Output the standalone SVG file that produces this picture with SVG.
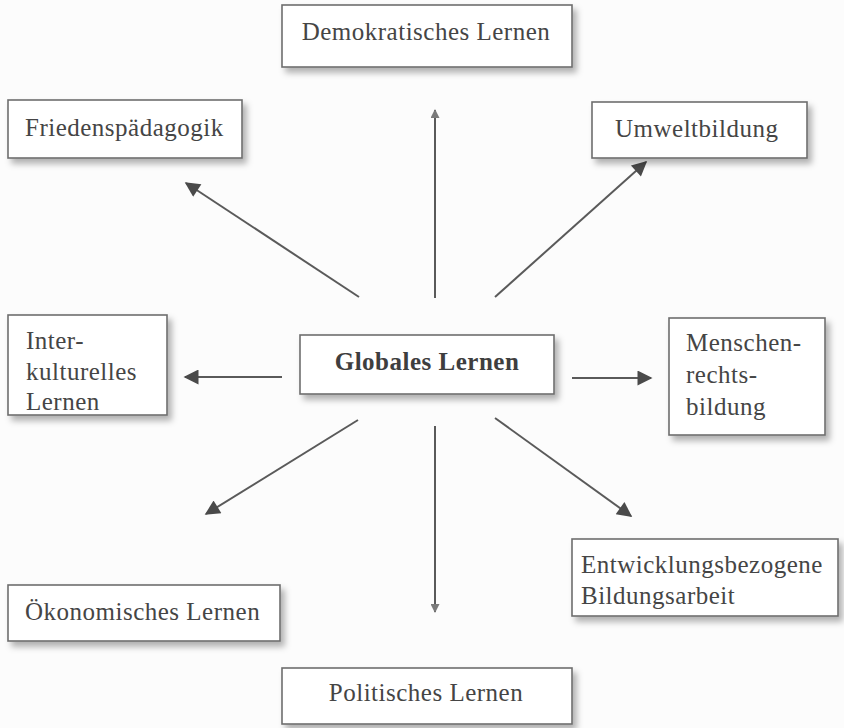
<svg xmlns="http://www.w3.org/2000/svg" width="844" height="728" viewBox="0 0 844 728">
<style>
.box{fill:#fff;stroke:#6e6e6e;stroke-width:1.6;filter:url(#sh)}
.t{font-family:"Liberation Serif","Times New Roman",serif;font-size:25px;fill:#454545;letter-spacing:0.5px}
.b{font-weight:bold;fill:#3e3e3e}
.c{text-anchor:middle}
.ln{stroke:#5a5a5a;stroke-width:2;fill:none}
</style>
<defs>
<filter id="sh" x="-10%" y="-20%" width="130%" height="150%">
<feDropShadow dx="4" dy="5" stdDeviation="3" flood-color="#000" flood-opacity="0.3"/>
</filter>
<marker id="ah" viewBox="0 0 10 10" refX="9" refY="5" markerUnits="userSpaceOnUse" markerWidth="20" markerHeight="15" orient="auto">
<path d="M0,0 L10,5 L0,10 z" fill="#4a4a4a"/>
</marker>
<marker id="as" viewBox="0 0 10 10" refX="9" refY="5" markerUnits="userSpaceOnUse" markerWidth="11" markerHeight="9" orient="auto">
<path d="M0,0 L10,5 L0,10 z" fill="#7a7a7a"/>
</marker>
</defs>
<rect width="844" height="728" fill="#fcfcfc"/>
<g id="connectors">
<line class="ln" x1="435" y1="298" x2="435" y2="110" marker-end="url(#as)"/>
<line class="ln" x1="435" y1="426" x2="435" y2="612" marker-end="url(#as)"/>
<line class="ln" x1="359" y1="297" x2="186" y2="183" marker-end="url(#ah)"/>
<line class="ln" x1="495" y1="297" x2="646" y2="162" marker-end="url(#ah)"/>
<line class="ln" x1="282" y1="377" x2="185" y2="377" marker-end="url(#ah)"/>
<line class="ln" x1="572" y1="378" x2="651" y2="378" marker-end="url(#ah)"/>
<line class="ln" x1="358" y1="420" x2="206" y2="514" marker-end="url(#ah)"/>
<line class="ln" x1="495" y1="418" x2="631" y2="516" marker-end="url(#ah)"/>
</g>
<g id="node-demokratisches">
<rect class="box" x="282" y="5" width="290" height="62"/>
<text class="t c" x="426" y="40">Demokratisches Lernen</text>
</g>
<g id="node-frieden">
<rect class="box" x="8" y="100" width="234" height="58"/>
<text class="t" x="25" y="136">Friedenspädagogik</text>
</g>
<g id="node-umwelt">
<rect class="box" x="592" y="102" width="215" height="56"/>
<text class="t" x="615" y="137">Umweltbildung</text>
</g>
<g id="node-interkulturell">
<rect class="box" x="8" y="315" width="159" height="100"/>
<text class="t" x="26" y="349">Inter-</text>
<text class="t" x="26" y="380">kulturelles</text>
<text class="t" x="26" y="410">Lernen</text>
</g>
<g id="node-global">
<rect class="box" x="300" y="335" width="254" height="59"/>
<text class="t b c" x="427" y="370">Globales Lernen</text>
</g>
<g id="node-menschenrecht">
<rect class="box" x="669" y="318" width="156" height="117"/>
<text class="t" x="686" y="351">Menschen-</text>
<text class="t" x="686" y="383">rechts-</text>
<text class="t" x="686" y="415">bildung</text>
</g>
<g id="node-oekonomisch">
<rect class="box" x="8" y="585" width="272" height="56"/>
<text class="t" x="25" y="620">Ökonomisches Lernen</text>
</g>
<g id="node-entwicklung">
<rect class="box" x="572" y="539" width="266" height="77"/>
<text class="t" x="581" y="573">Entwicklungsbezogene</text>
<text class="t" x="581" y="604">Bildungsarbeit</text>
</g>
<g id="node-politisch">
<rect class="box" x="282" y="668" width="290" height="56"/>
<text class="t c" x="426" y="701">Politisches Lernen</text>
</g>
</svg>
